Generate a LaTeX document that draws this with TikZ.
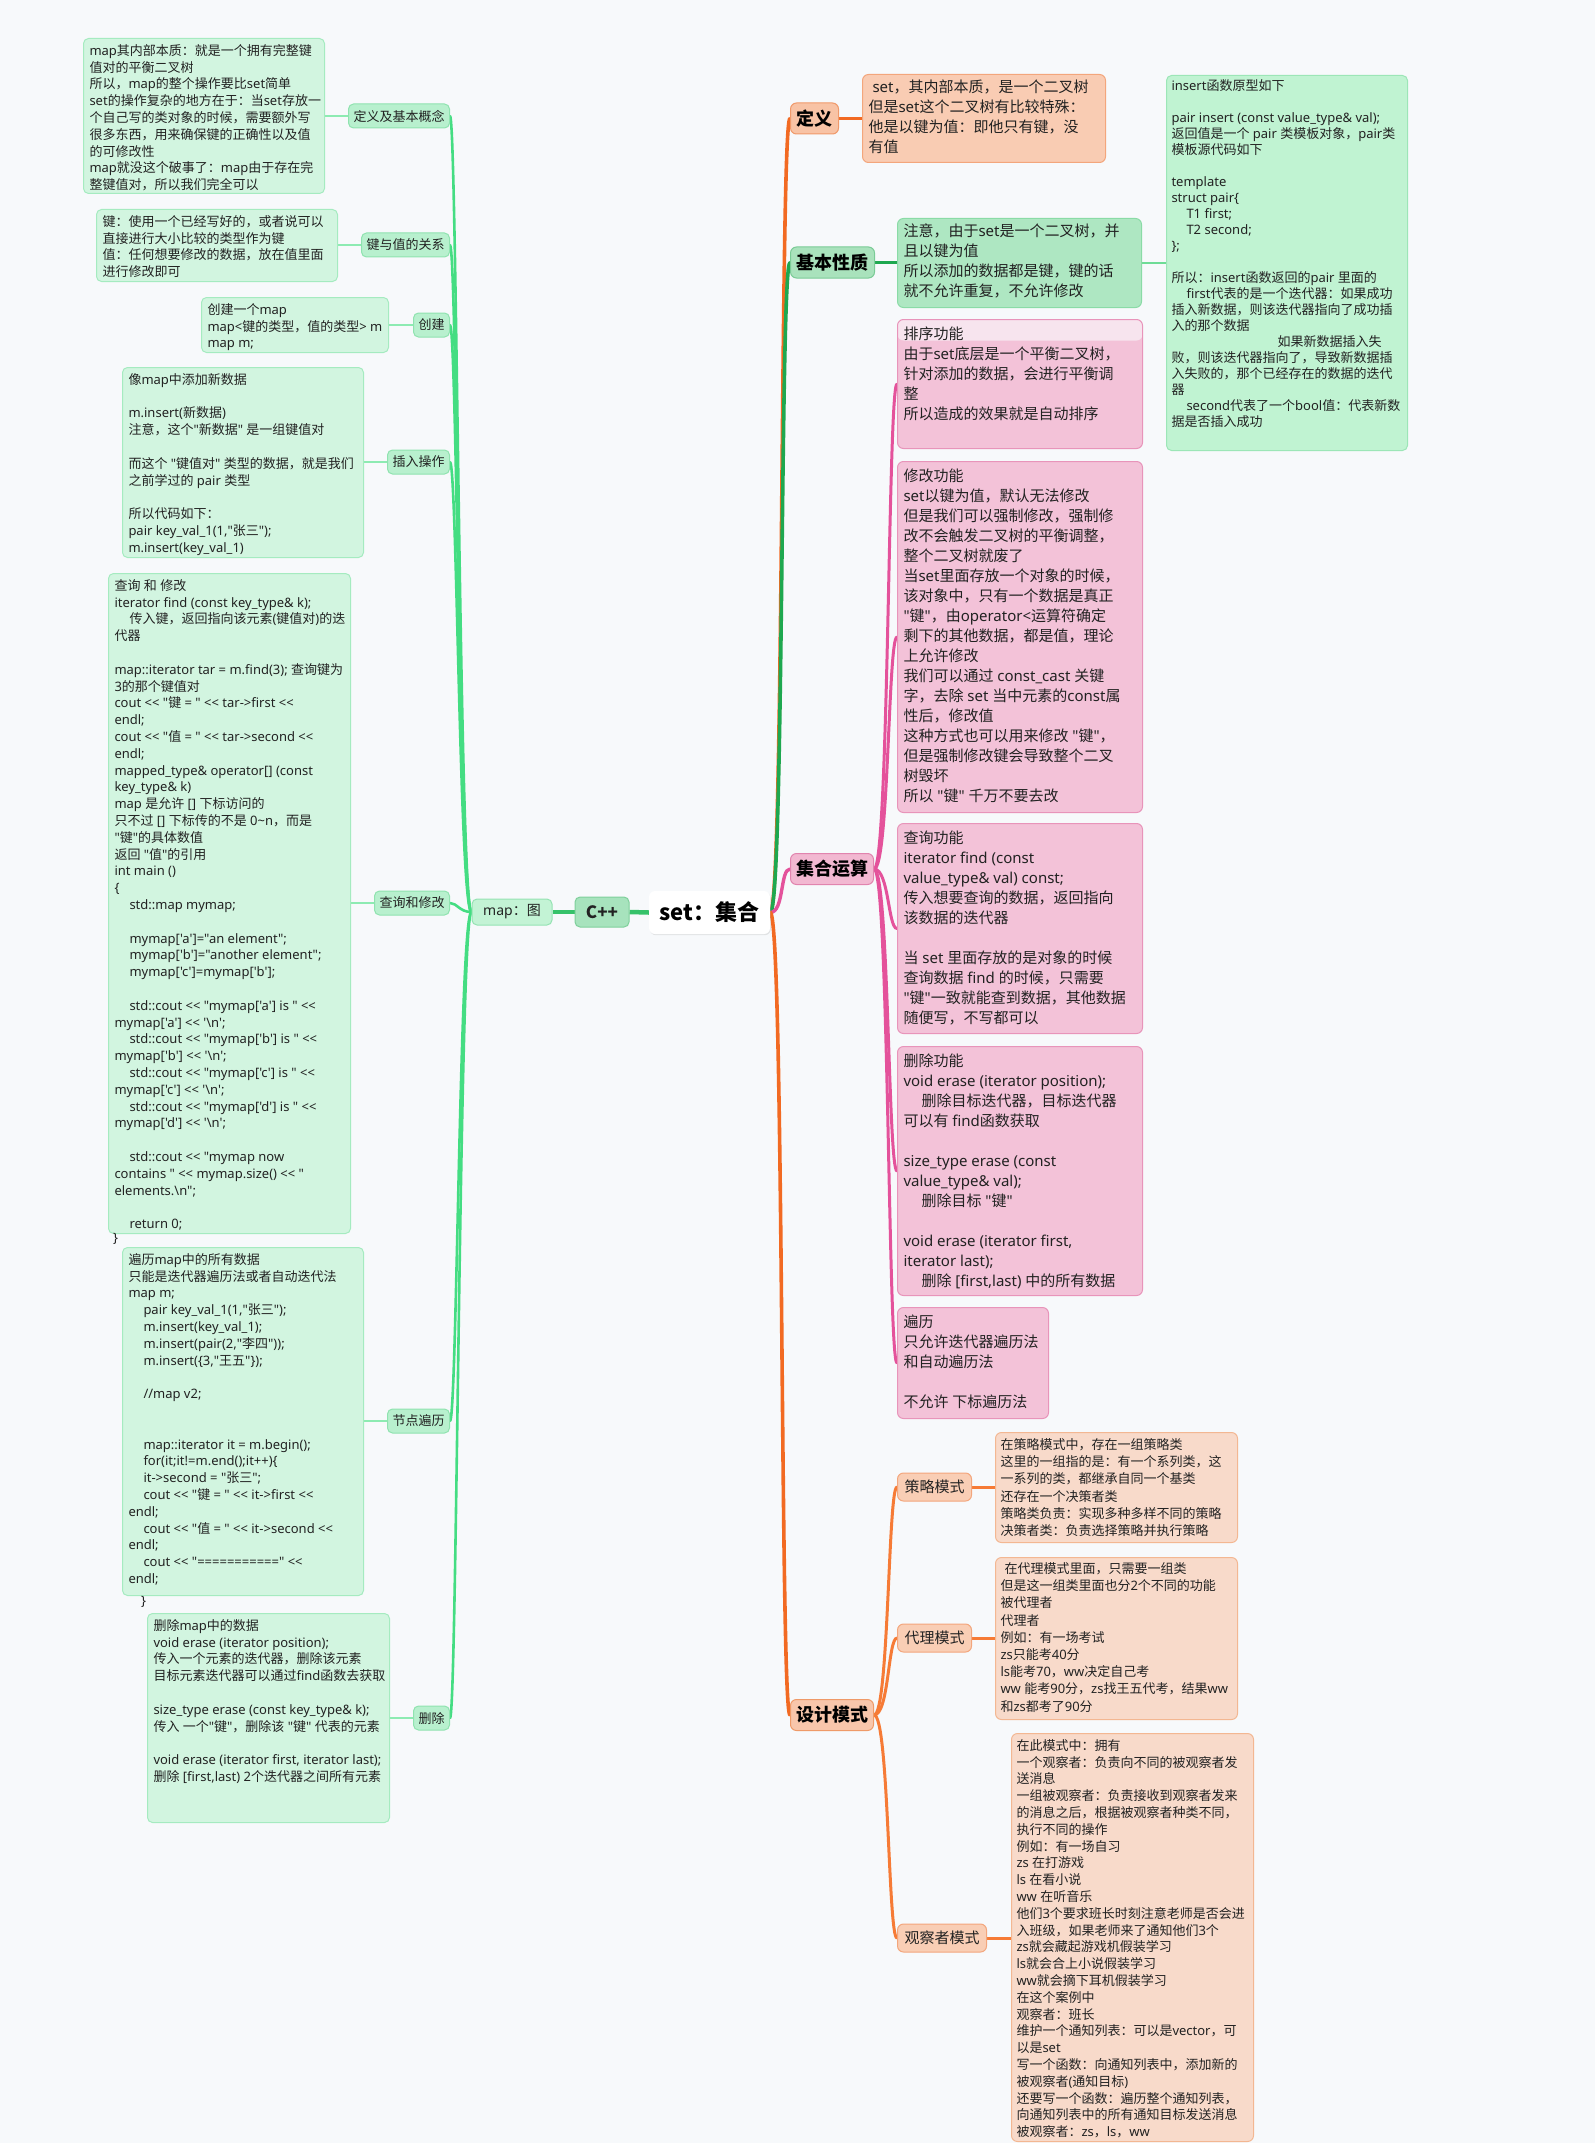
\documentclass[tikz,border=0pt]{standalone}
\usepackage{fontspec}
\newfontfamily\cjk{Noto Sans CJK SC}
\newfontfamily\lat{Noto Sans}
\newcount\cjkcc
\newXeTeXintercharclass\cjkclass
\def\setcjkrange#1#2{\cjkcc=#1\relax
  \loop\XeTeXcharclass\cjkcc=\cjkclass\relax
  \ifnum\cjkcc<#2\relax\advance\cjkcc by 1\relax\repeat}
\setcjkrange{"2E80}{"9FFF}
\setcjkrange{"F900}{"FAFF}
\setcjkrange{"FE30}{"FE4F}
\setcjkrange{"FF00}{"FFEF}
\XeTeXinterchartoks 0 \cjkclass = {\cjk}
\XeTeXinterchartoks 4095 \cjkclass = {\cjk}
\XeTeXinterchartoks \cjkclass 0 = {\lat}
\XeTeXinterchartoks \cjkclass 4095 = {\lat}
\XeTeXinterchartokenstate=1
\usetikzlibrary{shadows}
\pgfdeclarelayer{back}
\pgfdeclarelayer{lines}
\pgfsetlayers{back,lines,main}
\definecolor{bgc}{HTML}{F7F9FB}
\definecolor{ink}{HTML}{222222}
\definecolor{gLeaf}{HTML}{D2F5E0}
\definecolor{gLeafB}{HTML}{A5EBC0}
\definecolor{gLab}{HTML}{B8F0CE}
\definecolor{gLabB}{HTML}{8FE3AF}
\definecolor{gSpine}{HTML}{44DD82}
\definecolor{gConn}{HTML}{8DEBB2}
\definecolor{cppF}{HTML}{A7E3BD}
\definecolor{cppB}{HTML}{7FD09B}
\definecolor{mapF}{HTML}{C3F3D5}
\definecolor{mapB}{HTML}{95E3B3}
\definecolor{gDark}{HTML}{1EA84F}
\definecolor{gLink}{HTML}{6EDC96}
\definecolor{gCpp}{HTML}{36C26A}
\definecolor{kLab}{HTML}{A9E2BC}
\definecolor{kLabB}{HTML}{7ACB96}
\definecolor{kLeaf}{HTML}{AEE7C2}
\definecolor{kLeafB}{HTML}{8ADBA6}
\definecolor{insF}{HTML}{C0F3D2}
\definecolor{insB}{HTML}{9CE6B7}
\definecolor{oMainC}{HTML}{F26A22}
\definecolor{dLab}{HTML}{F8C3A5}
\definecolor{dLabB}{HTML}{F0996A}
\definecolor{dLeaf}{HTML}{F9CCB3}
\definecolor{dLeafB}{HTML}{F3A67C}
\definecolor{pMainC}{HTML}{E4529B}
\definecolor{pLab}{HTML}{F2B8D1}
\definecolor{pLabB}{HTML}{E184AE}
\definecolor{pLeaf}{HTML}{F3C2D8}
\definecolor{pLeafB}{HTML}{E894BA}
\definecolor{pHead}{HTML}{F7E4EE}
\definecolor{dzLab}{HTML}{F8C6AB}
\definecolor{dzLabB}{HTML}{EF9A68}
\definecolor{qLab}{HTML}{F9CEB5}
\definecolor{qLabB}{HTML}{F3A67C}
\definecolor{qLeaf}{HTML}{F8DACA}
\definecolor{qLeafB}{HTML}{F3B792}
\definecolor{oSub}{HTML}{F67B36}
\newcommand{\bx}[3]{\parbox[t][#2pt][t]{#1pt}{\begin{tabular}[t]{@{}l@{}}#3\end{tabular}}}
\newcommand{\ind}{\hspace*{15pt}}
\tikzset{
  lleaf/.style={draw=gLeafB, fill=gLeaf, line width=1pt, rounded corners=5pt, inner xsep=6pt, inner ysep=5pt, anchor=north west, font=\lat\fontsize{13}{16.8}\selectfont, text=ink},
  llabel/.style={draw=gLabB, fill=gLab, line width=1pt, rounded corners=5pt, inner xsep=5pt, inner ysep=0pt, minimum height=24pt, anchor=east, font=\lat\fontsize{13}{16}\selectfont, text=ink},
  setn/.style={fill=white, rounded corners=6pt, minimum width=121pt, minimum height=43pt, font=\cjk\bfseries\fontsize{22}{26}\selectfont, text=black, drop shadow={opacity=0.18, shadow xshift=0.8pt, shadow yshift=-1.2pt}},
  cppn/.style={draw=cppB, fill=cppF, line width=1pt, rounded corners=5pt, minimum width=54pt, minimum height=30pt, font=\cjk\bfseries\fontsize{17}{20}\selectfont, text=ink},
  mapn/.style={draw=mapB, fill=mapF, line width=1pt, rounded corners=5pt, minimum width=80pt, minimum height=26pt, font=\lat\fontsize{14}{17}\selectfont, text=ink},
  rlabel/.style={line width=1pt, rounded corners=6pt, minimum height=31pt, inner xsep=5pt, anchor=west, font=\cjk\bfseries\fontsize{18}{21}\selectfont, text=black},
  dleaf/.style={draw=dLeafB, fill=dLeaf, line width=1pt, rounded corners=6pt, inner xsep=6pt, inner ysep=4pt, anchor=north west, font=\lat\fontsize{15}{20}\selectfont, text=ink},
  kleaf/.style={dleaf, draw=kLeafB, fill=kLeaf},
  insleaf/.style={draw=insB, fill=insF, line width=1pt, rounded corners=5pt, inner xsep=5pt, inner ysep=4pt, anchor=north west, font=\lat\fontsize{13}{16}\selectfont, text=ink},
  pleaf/.style={draw=pLeafB, fill=pLeaf, line width=1pt, rounded corners=6pt, inner xsep=6pt, inner ysep=6pt, anchor=north west, font=\lat\fontsize{15}{20}\selectfont, text=ink},
  sorthead/.style={path picture={\fill[pHead] ([yshift=2pt]path picture bounding box.north west) rectangle ([yshift=-21pt]path picture bounding box.north east);}},
  qlabel/.style={draw=qLabB, fill=qLab, line width=1pt, rounded corners=6pt, minimum height=28pt, inner xsep=6pt, anchor=west, font=\lat\fontsize{15}{18}\selectfont, text=ink},
  qleaf/.style={draw=qLeafB, fill=qLeaf, line width=1pt, rounded corners=6pt, inner xsep=5pt, inner ysep=5pt, anchor=north west, font=\lat\fontsize{13}{17.2}\selectfont, text=ink},
  stray/.style={anchor=north west, inner sep=0pt, font=\lat\fontsize{13}{16}\selectfont, text=ink},
  spine/.style={draw=gSpine, line width=2.6pt, line cap=round},
  gconn/.style={draw=gConn, line width=2.6pt},
  omain/.style={draw=oMainC, line width=3.6pt, line cap=round},
  gmain/.style={draw=gDark, line width=3.6pt, line cap=round},
  pmain/.style={draw=pMainC, line width=3.4pt, line cap=round},
  psub/.style={draw=pMainC, line width=3pt, line cap=round},
  osub/.style={draw=oSub, line width=3pt, line cap=round},
}
\begin{document}
\begin{tikzpicture}[x=1pt,y=-1pt]
\useasboundingbox (0,0) rectangle (1595,2143);
\begin{pgfonlayer}{back}
\fill[bgc] (0,0) rectangle (1595,2143);
\end{pgfonlayer}

% ---------- centre ----------
\node[setn] (set) at (709.5,912.5) {set：集合};
\node[cppn] (cpp) at (602,912) {C++};
\node[mapn] (map) at (512,912) {map：图};

% ---------- left labels ----------
\node[llabel] (L1) at (450,116) {定义及基本概念};
\node[llabel] (L2) at (450,245) {键与值的关系};
\node[llabel] (L3) at (450,325) {创建};
\node[llabel] (L4) at (450,462) {插入操作};
\node[llabel] (L5) at (450,903) {查询和修改};
\node[llabel] (L6) at (450,1421) {节点遍历};
\node[llabel] (L7) at (450,1718) {删除};

% ---------- left leaves ----------
\node[lleaf] (B1) at (83,38) {\bx{229}{145}{map其内部本质：就是一个拥有完整键\\
值对的平衡二叉树\\
所以，map的整个操作要比set简单\\
set的操作复杂的地方在于：当set存放一\\
个自己写的类对象的时候，需要额外写\\
很多东西，用来确保键的正确性以及值\\
的可修改性\\
map就没这个破事了：map由于存在完\\
整键值对，所以我们完全可以}};

\node[lleaf] (B2) at (96,209) {\bx{229}{62}{键：使用一个已经写好的，或者说可以\\
直接进行大小比较的类型作为键\\
值：任何想要修改的数据，放在值里面\\
进行修改即可}};

\node[lleaf] (B3) at (201,297) {\bx{175}{45}{创建一个map\\
map<键的类型，值的类型> m\\
map m;}};

\node[lleaf] (B4) at (122,367) {\bx{229}{180}{像map中添加新数据\\
\\
m.insert(新数据)\\
注意，这个"新数据" 是一组键值对\\
\\
而这个 "键值对" 类型的数据，就是我们\\
之前学过的 pair 类型\\
\\
所以代码如下：\\
pair key\_val\_1(1,"张三");\\
m.insert(key\_val\_1)}};

\node[lleaf] (B5) at (108,573) {\bx{230}{650}{查询 和 修改\\
iterator find (const key\_type\& k);\\
\ind 传入键，返回指向该元素(键值对)的迭\\
代器\\
\\
map::iterator tar = m.find(3); 查询键为\\
3的那个键值对\\
cout << "键 = " << tar->first <<\\
endl;\\
cout << "值 = " << tar->second <<\\
endl;\\
mapped\_type\& operator[] (const\\
key\_type\& k)\\
map 是允许 [] 下标访问的\\
只不过 [] 下标传的不是 0\textasciitilde n，而是\\
"键"的具体数值\\
返回 "值"的引用\\
int main ()\\
\{\\
\ind std::map mymap;\\
\\
\ind mymap['a']="an element";\\
\ind mymap['b']="another element";\\
\ind mymap['c']=mymap['b'];\\
\\
\ind std::cout << "mymap['a'] is " <<\\
mymap['a'] << '\textbackslash n';\\
\ind std::cout << "mymap['b'] is " <<\\
mymap['b'] << '\textbackslash n';\\
\ind std::cout << "mymap['c'] is " <<\\
mymap['c'] << '\textbackslash n';\\
\ind std::cout << "mymap['d'] is " <<\\
mymap['d'] << '\textbackslash n';\\
\\
\ind std::cout << "mymap now\\
contains " << mymap.size() << "\\
elements.\textbackslash n";\\
\\
\ind return 0;}};
\node[stray] (br1) at (113,1233) {\}};

\node[lleaf] (B6) at (122,1247) {\bx{229}{338}{遍历map中的所有数据\\
只能是迭代器遍历法或者自动迭代法\\
map m;\\
\ind pair key\_val\_1(1,"张三");\\
\ind m.insert(key\_val\_1);\\
\ind m.insert(pair(2,"李四"));\\
\ind m.insert(\{3,"王五"\});\\
\\
\ind //map v2;\\
\\
\\
\ind map::iterator it = m.begin();\\
\ind for(it;it!=m.end();it++)\{\\
\ind it->second = "张三";\\
\ind cout << "键 = " << it->first <<\\
endl;\\
\ind cout << "值 = " << it->second <<\\
endl;\\
\ind cout << "===========" <<\\
endl;}};
\node[stray] (br2) at (141,1596) {\}};

\node[lleaf] (B7) at (147,1613) {\bx{230}{199}{删除map中的数据\\
void erase (iterator position);\\
传入一个元素的迭代器，删除该元素\\
目标元素迭代器可以通过find函数去获取\\
\\
size\_type erase (const key\_type\& k);\\
传入 一个"键"，删除该 "键" 代表的元素\\
\\
void erase (iterator first, iterator last);\\
删除 [first,last) 2个迭代器之间所有元素}};

% ---------- right main labels ----------
\node[rlabel, draw=dLabB, fill=dLab, minimum width=48pt] (R1) at (790,118.5) {定义};
\node[rlabel, draw=kLabB, fill=kLab, minimum width=84pt] (R2) at (790,262.5) {基本性质};
\node[rlabel, draw=pLabB, fill=pLab, minimum width=83pt] (R3) at (790,869) {集合运算};
\node[rlabel, draw=dzLabB, fill=dzLab, minimum width=83pt] (R4) at (790,1715) {设计模式};

% ---------- right leaves ----------
\node[dleaf] (D1) at (862,74) {\bx{231}{80}{\hspace*{4pt}set，其内部本质，是一个二叉树\\
但是set这个二叉树有比较特殊：\\
他是以键为值：即他只有键，没\\
有值}};

\node[kleaf] (K1) at (897,218) {\bx{232}{81}{注意，由于set是一个二叉树，并\\
且以键为值\\
所以添加的数据都是键，键的话\\
就不允许重复，不允许修改}};

\node[insleaf] (I1) at (1166,75) {\bx{231}{367}{insert函数原型如下\\
\\
pair insert (const value\_type\& val);\\
返回值是一个 pair 类模板对象，pair类\\
模板源代码如下\\
\\
template\\
struct pair\{\\
\ind T1 first;\\
\ind T2 second;\\
\};\\
\\
所以：insert函数返回的pair 里面的\\
\ind first代表的是一个迭代器：如果成功\\
插入新数据，则该迭代器指向了成功插\\
入的那个数据\\
\hspace*{106pt}如果新数据插入失\\
败，则该迭代器指向了，导致新数据插\\
入失败的，那个已经存在的数据的迭代\\
器\\
\ind second代表了一个bool值：代表新数\\
据是否插入成功}};

\node[pleaf, sorthead] (S1) at (897,319) {\bx{233}{117}{排序功能\\
由于set底层是一个平衡二叉树，\\
针对添加的数据，会进行平衡调\\
整\\
所以造成的效果就是自动排序}};

\node[pleaf] (S2) at (897,461) {\bx{233}{339}{修改功能\\
set以键为值，默认无法修改\\
但是我们可以强制修改，强制修\\
改不会触发二叉树的平衡调整，\\
整个二叉树就废了\\
当set里面存放一个对象的时候，\\
该对象中，只有一个数据是真正\\
"键"，由operator<运算符确定\\
剩下的其他数据，都是值，理论\\
上允许修改\\
我们可以通过 const\_cast 关键\\
字，去除 set 当中元素的const属\\
性后，修改值\\
这种方式也可以用来修改 "键"，\\
但是强制修改键会导致整个二叉\\
树毁坏\\
所以 "键" 千万不要去改}};

\node[pleaf] (S3) at (897,823) {\bx{233}{198}{查询功能\\
iterator find (const\\
value\_type\& val) const;\\
传入想要查询的数据，返回指向\\
该数据的迭代器\\
\\
当 set 里面存放的是对象的时候\\
查询数据 find 的时候，只需要\\
"键"一致就能查到数据，其他数据\\
随便写，不写都可以}};

\node[pleaf] (S4) at (897,1046) {\bx{233}{237}{删除功能\\
void erase (iterator position);\\
\hspace*{18pt}删除目标迭代器，目标迭代器\\
可以有 find函数获取\\
\\
size\_type erase (const\\
value\_type\& val);\\
\hspace*{18pt}删除目标 "键"\\
\\
void erase (iterator first,\\
iterator last);\\
\hspace*{18pt}删除 [first,last) 中的所有数据}};

\node[pleaf] (S5) at (897,1307) {\bx{139}{99}{遍历\\
只允许迭代器遍历法\\
和自动遍历法\\
\\
不允许 下标遍历法}};

% ---------- design patterns ----------
\node[qlabel, minimum width=74pt] (Q1) at (897,1487) {策略模式};
\node[qlabel, minimum width=74pt] (Q2) at (897,1638) {代理模式};
\node[qlabel, minimum width=89pt] (Q3) at (897,1938) {观察者模式};

\node[qleaf] (P1) at (995,1432) {\bx{232}{100}{在策略模式中，存在一组策略类\\
这里的一组指的是：有一个系列类，这\\
一系列的类，都继承自同一个基类\\
还存在一个决策者类\\
策略类负责：实现多种多样不同的策略\\
决策者类：负责选择策略并执行策略}};

\node[qleaf, inner ysep=4pt] (P2) at (995,1557) {\bx{232}{154}{\hspace*{4pt}在代理模式里面，只需要一组类\\
但是这一组类里面也分2个不同的功能\\
被代理者\\
代理者\\
例如：有一场考试\\
zs只能考40分\\
ls能考70，ww决定自己考\\
ww 能考90分，zs找王五代考，结果ww\\
和zs都考了90分}};

\node[qleaf, font=\lat\fontsize{13}{16.8}\selectfont] (P3) at (1011,1733) {\bx{232}{398}{在此模式中：拥有\\
一个观察者：负责向不同的被观察者发\\
送消息\\
一组被观察者：负责接收到观察者发来\\
的消息之后，根据被观察者种类不同，\\
执行不同的操作\\
例如：有一场自习\\
zs 在打游戏\\
ls 在看小说\\
ww 在听音乐\\
他们3个要求班长时刻注意老师是否会进\\
入班级，如果老师来了通知他们3个\\
zs就会藏起游戏机假装学习\\
ls就会合上小说假装学习\\
ww就会摘下耳机假装学习\\
在这个案例中\\
观察者：班长\\
维护一个通知列表：可以是vector，可\\
以是set\\
写一个函数：向通知列表中，添加新的\\
被观察者(通知目标)\\
还要写一个函数：遍历整个通知列表，\\
向通知列表中的所有通知目标发送消息\\
被观察者：zs，ls，ww}};

% ---------- connectors ----------
\begin{pgfonlayer}{lines}
\draw[draw=gCpp, line width=4.5pt] (set.west) -- (cpp.east);
\draw[draw=gCpp, line width=4pt] (cpp.west) -- (map.east);
\foreach \n in {L1,L2,L3,L4,L5,L6,L7}
  \draw[spine] (map.west) .. controls +(-12,0) and +(7,0) .. (\n.east);
\draw[gconn] (L1.west) -- (L1.west -| B1.east);
\draw[gconn] (L2.west) -- (L2.west -| B2.east);
\draw[gconn] (L3.west) -- (L3.west -| B3.east);
\draw[gconn] (L4.west) -- (L4.west -| B4.east);
\draw[gconn] (L5.west) -- (L5.west -| B5.east);
\draw[gconn] (L6.west) -- (L6.west -| B6.east);
\draw[gconn] (L7.west) -- (L7.west -| B7.east);

\draw[omain] (set.east) .. controls +(14,0) and +(-10,0) .. (R1.west);
\draw[gmain] (set.east) .. controls +(14,0) and +(-10,0) .. (R2.west);
\draw[pmain] (set.east) .. controls +(14,0) and +(-10,0) .. (R3.west);
\draw[omain] (set.east) .. controls +(14,0) and +(-10,0) .. (R4.west);

\draw[draw=oMainC, line width=3pt] (R1.east) -- (R1.east -| D1.west);
\draw[draw=gDark, line width=3pt] (R2.east) -- (R2.east -| K1.west);
\draw[draw=gLink, line width=2.6pt] (K1.east) -- (K1.east -| I1.west);

\foreach \n in {S1,S2,S3,S4,S5}
  \draw[psub] (R3.east) .. controls +(15,0) and +(-9,0) .. (\n.west);
\foreach \n in {Q1,Q2,Q3}
  \draw[osub] (R4.east) .. controls +(15,0) and +(-9,0) .. (\n.west);
\draw[osub] (Q1.east) -- (Q1.east -| P1.west);
\draw[osub] (Q2.east) -- (Q2.east -| P2.west);
\draw[osub] (Q3.east) -- (Q3.east -| P3.west);
\end{pgfonlayer}
\end{tikzpicture}
\end{document}
